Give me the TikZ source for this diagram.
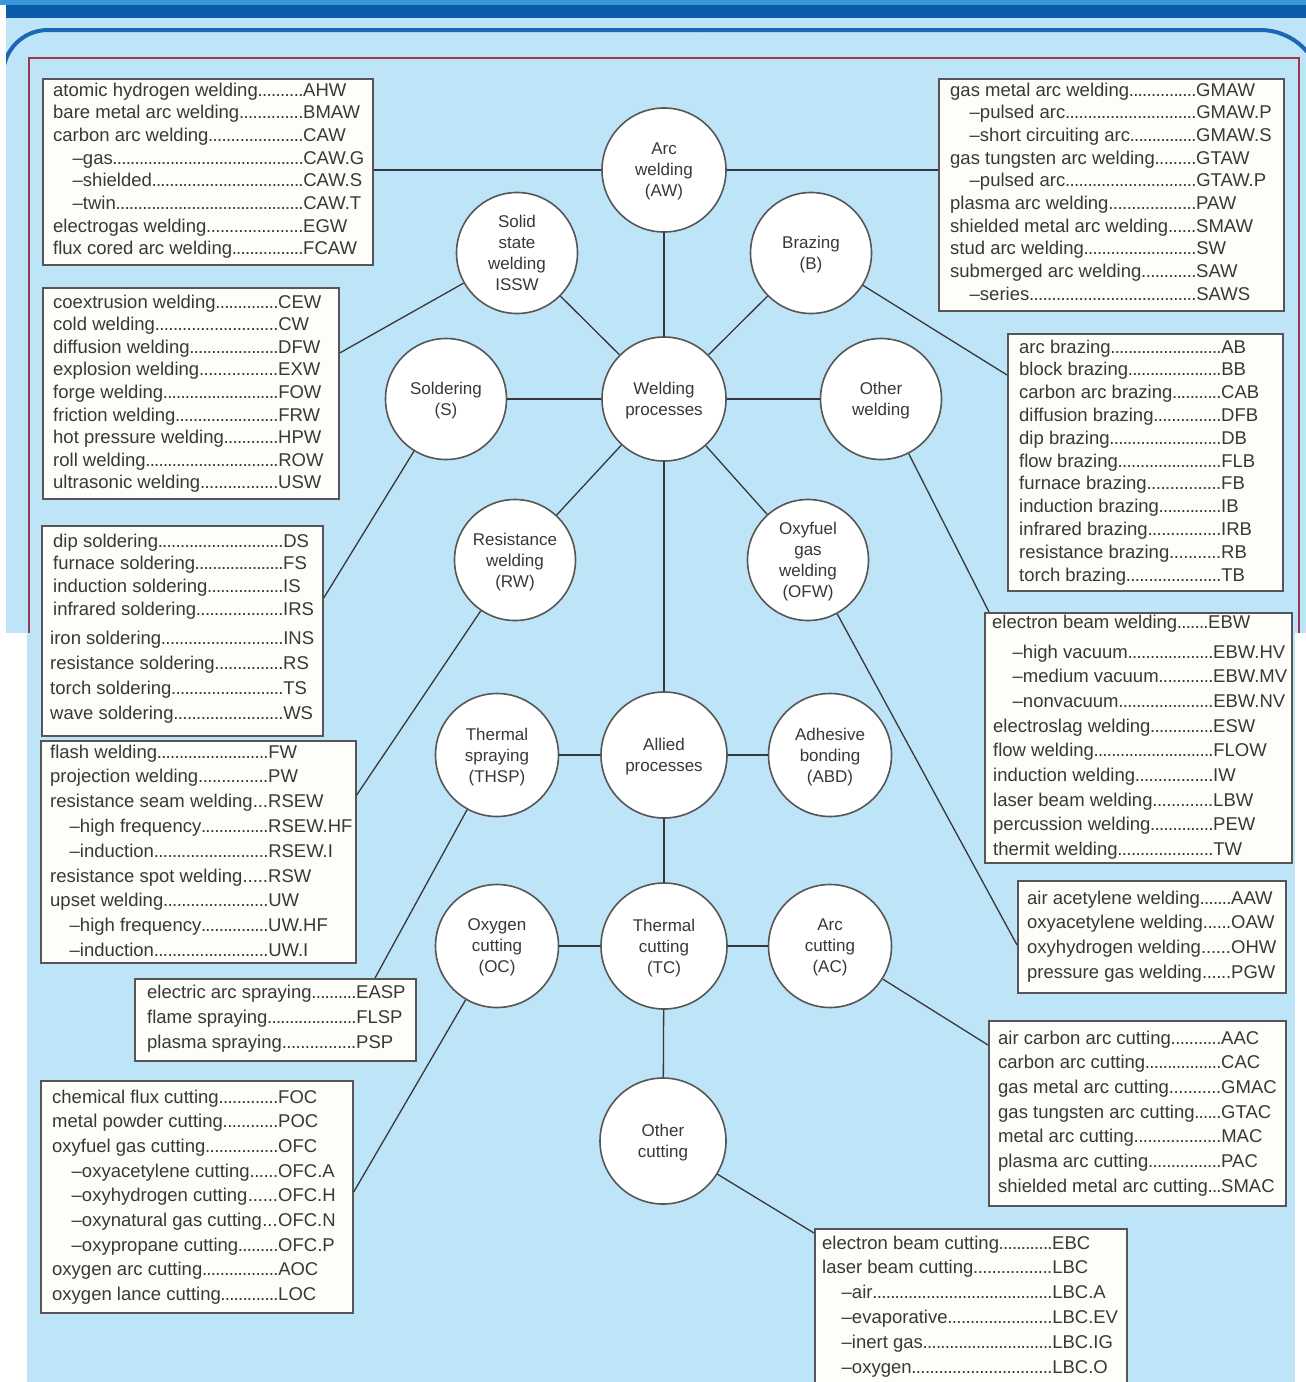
\documentclass[tikz,border=0pt]{standalone}
\usepackage{fontspec}
\setmainfont{Liberation Sans}
\usetikzlibrary{calc}

\definecolor{bgblue}{HTML}{BEE4F7}
\definecolor{darkbar}{HTML}{0B5CAB}
\definecolor{topstrip}{HTML}{3A98DA}
\definecolor{framecol}{HTML}{1B67B4}
\definecolor{maroonline}{HTML}{9B3A55}
\definecolor{boxfill}{HTML}{FEFDF9}
\definecolor{inkgray}{HTML}{383838}
\definecolor{edgegray}{HTML}{565656}

\newlength\namew
\newcommand\lead{\xleaders\hbox to 4.4pt{\hss.\hss}\hfill}
\newcommand\E[2]{\hbox{\hbox to\namew{#1\lead}#2}}
\newcommand\I[2]{\hbox{\hbox to\namew{\hskip19.5pt –#1\lead}#2}}
\newcommand\listtext[3]{\vtop{\setlength\namew{#1}\baselineskip=#2pt\lineskiplimit=-50pt\lineskip=0pt #3}}

\tikzset{
  proc/.style={circle, draw=edgegray, line width=1.6pt, fill=white, inner sep=0pt,
    align=center, font=\fontsize{17}{21}\selectfont, text=inkgray, text depth=0pt},
  listbox/.style={rectangle, draw=edgegray, line width=1.7pt, fill=boxfill, inner sep=0pt, anchor=north west},
  listtxt/.style={inner sep=0pt, anchor=base west, text=inkgray, font=\fontsize{18.5}{22.7}\selectfont},
  conn/.style={draw=inkgray, line width=1.3pt}
}

\begin{document}
\begin{tikzpicture}[x=1pt,y=-1pt]
\useasboundingbox (0,0) rectangle (1306,1382);
% background
\fill[white] (0,0) rectangle (1306,1382);
\fill[bgblue] (6,0) rectangle (1306,633);
\fill[bgblue] (27,633) rectangle (1295,1382);
\fill[topstrip] (0,0) rectangle (1306,5);
\fill[darkbar] (6,5) rectangle (1306,18);
\begin{scope}
\clip (6,18) rectangle (1306,633);
\draw[framecol, line width=4pt, rounded corners=45pt] (3,633) -- (3,30) -- (700,30);
\draw[framecol, line width=4pt, rounded corners=62pt] (699,30) -- (1322,30) -- (1322,633);
\end{scope}
\draw[maroonline, line width=1.3pt] (29,633) -- (29,58) -- (1299,58) -- (1299,633);

% circles
\node[proc, minimum size=124] (aw) at (664,170) {Arc\\welding\\(AW)};
\node[proc, minimum size=121] (ss) at (517,253) {Solid\\state\\welding\\ISSW};
\node[proc, minimum size=121] (br) at (811,253) {Brazing\\(B)};
\node[proc, minimum size=124] (wp) at (664,399) {Welding\\processes};
\node[proc, minimum size=121] (so) at (446,399) {Soldering\\(S)};
\node[proc, minimum size=121] (ow) at (881,399) {Other\\welding};
\node[proc, minimum size=121] (rw) at (515,560) {Resistance\\welding\\(RW)};
\node[proc, minimum size=121] (ofw) at (808,560) {Oxyfuel\\gas\\welding\\(OFW)};
\node[proc, minimum size=126] (ap) at (664,755) {Allied\\processes};
\node[proc, minimum size=123] (ts) at (497,755) {Thermal\\spraying\\(THSP)};
\node[proc, minimum size=123] (ab) at (830,755) {Adhesive\\bonding\\(ABD)};
\node[proc, minimum size=126] (tc) at (664,946) {Thermal\\cutting\\(TC)};
\node[proc, minimum size=123] (oc) at (497,946) {Oxygen\\cutting\\(OC)};
\node[proc, minimum size=123] (ac) at (830,946) {Arc\\cutting\\(AC)};
\node[proc, minimum size=126] (ocut) at (663,1141) {Other\\cutting};

% boxes
\node[listbox, minimum width=330, minimum height=186] (b1) at (42,78) {};
\node[listtxt] (b1t) at (53,96) {\listtext{250pt}{22.7}{%
\E{atomic hydrogen welding}{AHW}
\E{bare metal arc welding}{BMAW}
\E{carbon arc welding}{CAW}
\I{gas}{CAW.G}
\I{shielded}{CAW.S}
\I{twin}{CAW.T}
\E{electrogas welding}{EGW}
\E{flux cored arc welding}{FCAW}}};

\node[listbox, minimum width=345, minimum height=232] (b2) at (938,78) {};
\node[listtxt] (b2t) at (950,96) {\listtext{246pt}{22.7}{%
\E{gas metal arc welding}{GMAW}
\I{pulsed arc}{GMAW.P}
\I{short circuiting arc}{GMAW.S}
\E{gas tungsten arc welding}{GTAW}
\I{pulsed arc}{GTAW.P}
\E{plasma arc welding}{PAW}
\E{shielded metal arc welding}{SMAW}
\E{stud arc welding}{SW}
\E{submerged arc welding}{SAW}
\I{series}{SAWS}}};

\node[listbox, minimum width=296, minimum height=211] (b3) at (42,287) {};
\node[listtxt] (b3t) at (53,308) {\listtext{225pt}{22.6}{%
\E{coextrusion welding}{CEW}
\E{cold welding}{CW}
\E{diffusion welding}{DFW}
\E{explosion welding}{EXW}
\E{forge welding}{FOW}
\E{friction welding}{FRW}
\E{hot pressure welding}{HPW}
\E{roll welding}{ROW}
\E{ultrasonic welding}{USW}}};

\node[listbox, minimum width=275, minimum height=257] (b4) at (1007,333) {};
\node[listtxt] (b4t) at (1019,353) {\listtext{202pt}{22.8}{%
\E{arc brazing}{AB}
\E{block brazing}{BB}
\E{carbon arc brazing}{CAB}
\E{diffusion brazing}{DFB}
\E{dip brazing}{DB}
\E{flow brazing}{FLB}
\E{furnace brazing}{FB}
\E{induction brazing}{IB}
\E{infrared brazing}{IRB}
\E{resistance brazing}{RB}
\E{torch brazing}{TB}}};

\node[listbox, minimum width=281, minimum height=210] (b5) at (41,525) {};
\node[listtxt] (b5t) at (53,547) {\listtext{230pt}{22.7}{%
\E{dip soldering}{DS}
\E{furnace soldering}{FS}
\E{induction soldering}{IS}
\E{infrared soldering}{IRS}}};
\node[listtxt] (b5u) at (50,644) {\listtext{233pt}{25}{%
\E{iron soldering}{INS}
\E{resistance soldering}{RS}
\E{torch soldering}{TS}
\E{wave soldering}{WS}}};

\node[listbox, minimum width=315, minimum height=222] (b6) at (40,740) {};
\node[listtxt] (b6t) at (50,758) {\listtext{218pt}{24.8}{%
\E{flash welding}{FW}
\E{projection welding}{PW}
\E{resistance seam welding}{RSEW}
\I{high frequency}{RSEW.HF}
\I{induction}{RSEW.I}
\E{resistance spot welding}{RSW}
\E{upset welding}{UW}
\I{high frequency}{UW.HF}
\I{induction}{UW.I}}};

\node[listbox, minimum width=281, minimum height=82] (b7) at (134,978) {};
\node[listtxt] (b7t) at (147,998) {\listtext{209pt}{25}{%
\E{electric arc spraying}{EASP}
\E{flame spraying}{FLSP}
\E{plasma spraying}{PSP}}};

\node[listbox, minimum width=312, minimum height=232] (b8) at (40,1080) {};
\node[listtxt] (b8t) at (52,1103) {\listtext{226pt}{24.7}{%
\E{chemical flux cutting}{FOC}
\E{metal powder cutting}{POC}
\E{oxyfuel gas cutting}{OFC}
\I{oxyacetylene cutting}{OFC.A}
\I{oxyhydrogen cutting}{OFC.H}
\I{oxynatural gas cutting}{OFC.N}
\I{oxypropane cutting}{OFC.P}
\E{oxygen arc cutting}{AOC}
\E{oxygen lance cutting}{LOC}}};

\node[listbox, minimum width=307, minimum height=250] (b9) at (984,612) {};
\node[listtxt] (b9t) at (992,628) {\listtext{216pt}{24.7}{%
\E{electron beam welding}{EBW}}};
\node[listtxt] (b9u) at (993,658) {\listtext{220pt}{24.7}{%
\I{high vacuum}{EBW.HV}
\I{medium vacuum}{EBW.MV}
\I{nonvacuum}{EBW.NV}
\E{electroslag welding}{ESW}
\E{flow welding}{FLOW}
\E{induction welding}{IW}
\E{laser beam welding}{LBW}
\E{percussion welding}{PEW}
\E{thermit welding}{TW}}};

\node[listbox, minimum width=268, minimum height=112] (b10) at (1017,880) {};
\node[listtxt] (b10t) at (1027,904) {\listtext{204pt}{24.7}{%
\E{air acetylene welding}{AAW}
\E{oxyacetylene welding}{OAW}
\E{oxyhydrogen welding}{OHW}
\E{pressure gas welding}{PGW}}};

\node[listbox, minimum width=297, minimum height=185] (b11) at (988,1020) {};
\node[listtxt] (b11t) at (998,1044) {\listtext{223pt}{24.7}{%
\E{air carbon arc cutting}{AAC}
\E{carbon arc cutting}{CAC}
\E{gas metal arc cutting}{GMAC}
\E{gas tungsten arc cutting}{GTAC}
\E{metal arc cutting}{MAC}
\E{plasma arc cutting}{PAC}
\E{shielded metal arc cutting}{SMAC}}};

\node[listbox, minimum width=312, minimum height=170] (b12) at (814,1228) {};
\node[listtxt] (b12t) at (822,1249) {\listtext{230pt}{24.8}{%
\E{electron beam cutting}{EBC}
\E{laser beam cutting}{LBC}
\I{air}{LBC.A}
\I{evaporative}{LBC.EV}
\I{inert gas}{LBC.IG}
\I{oxygen}{LBC.O}}};

% connectors between circles
\draw[conn] (aw) -- (wp);
\draw[conn] (ss) -- (wp);
\draw[conn] (br) -- (wp);
\draw[conn] (so) -- (wp);
\draw[conn] (ow) -- (wp);
\draw[conn] (rw) -- (wp);
\draw[conn] (ofw) -- (wp);
\draw[conn] (wp) -- (ap);
\draw[conn] (ts) -- (ap);
\draw[conn] (ap) -- (ab);
\draw[conn] (ap) -- (tc);
\draw[conn] (oc) -- (tc);
\draw[conn] (tc) -- (ac);
\draw[conn] (tc) -- (ocut);

% connectors to boxes
\draw[conn] (aw.west) -- (aw.west -| b1.east);
\draw[conn] (aw.east) -- (aw.east -| b2.west);
\draw[conn] ($(b3.north east)+(0,66)$) -- (ss);
\draw[conn] ($(b4.north west)+(0,42)$) -- (br);
\draw[conn] ($(b5.north east)+(0,73)$) -- (so);
\draw[conn] ($(b9.north west)+(5,0)$) -- (ow);
\draw[conn] ($(b6.north east)+(0,55)$) -- (rw);
\draw[conn] ($(b10.north west)+(0,65)$) -- (ofw);
\draw[conn] ($(b7.north west)+(241,0)$) -- (ts);
\draw[conn] ($(b8.north east)+(0,112)$) -- (oc);
\draw[conn] ($(b11.north west)+(0,25)$) -- (ac);
\draw[conn] ($(b12.north west)+(0,5)$) -- (ocut);
\end{tikzpicture}
\end{document}
